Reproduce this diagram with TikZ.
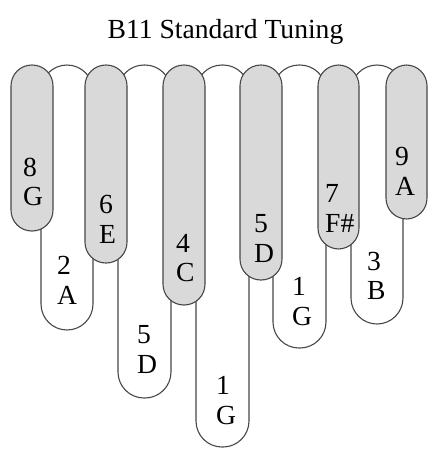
\documentclass[tikz,border=0pt]{standalone}
\usepackage{fontspec}
\setmainfont{Liberation Serif}
\begin{document}
\begin{tikzpicture}[x=1pt,y=-1pt,
  tine/.style={draw=black!72, line width=1.1pt},
  light/.style={tine, fill=white, rounded corners=26pt},
  dark/.style={tine, fill=black!15, rounded corners=20.8pt},
  lbl/.style={anchor=base west, inner sep=0pt, font=\fontsize{27.6}{30}\selectfont}]
\useasboundingbox (0,0) rectangle (437,456);
\node[anchor=base, inner sep=0pt, font=\fontsize{27.6}{30}\selectfont] (title) at (225.5,38) {B11 Standard Tuning};
% white (back) tines
\draw[light] (41,65) rectangle (93,330);
\draw[light] (118,65) rectangle (171,398);
\draw[light] (196,65) rectangle (249,447);
\draw[light] (273,65) rectangle (326,348);
\draw[light] (351,65) rectangle (403,324);
% gray (front) tines
\draw[dark] (11,65) rectangle (53,231);
\draw[dark] (85,65) rectangle (127,263);
\draw[dark] (163,65) rectangle (205,305);
\draw[dark] (240,65) rectangle (282,280);
\draw[dark] (318,65) rectangle (359,249);
\draw[dark] (386,65) rectangle (427,219);
% labels
\node[lbl] (n8) at (23,176) {8};   \node[lbl] (l8) at (23,205) {G};
\node[lbl] (n6) at (99,213) {6};   \node[lbl] (l6) at (99,243) {E};
\node[lbl] (n4) at (176,252) {4};  \node[lbl] (l4) at (176,281) {C};
\node[lbl] (n5g) at (254,232) {5}; \node[lbl] (l5g) at (254,262) {D};
\node[lbl] (n7) at (325,202) {7};  \node[lbl] (l7) at (325,232) {F\#};
\node[lbl] (n9) at (395,165) {9};  \node[lbl] (l9) at (395,195) {A};
\node[lbl] (n2) at (57,274) {2};   \node[lbl] (l2) at (57,304) {A};
\node[lbl] (n5w) at (137,343) {5}; \node[lbl] (l5w) at (137,373) {D};
\node[lbl] (n1m) at (216,394) {1}; \node[lbl] (l1m) at (216,424) {G};
\node[lbl] (n1r) at (292,295) {1}; \node[lbl] (l1r) at (292,325) {G};
\node[lbl] (n3) at (367,270) {3};  \node[lbl] (l3) at (367,299) {B};
\end{tikzpicture}
\end{document}
